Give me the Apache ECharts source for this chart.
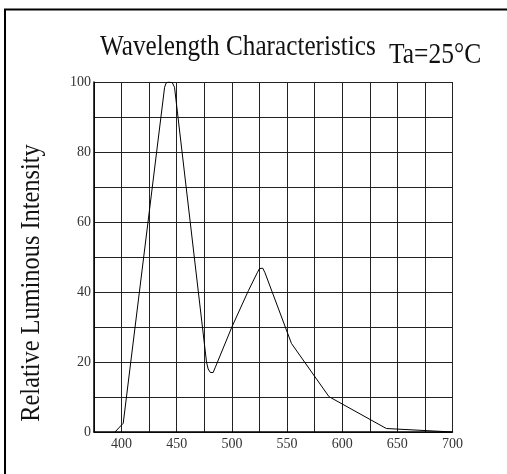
<!DOCTYPE html>
<html>
<head>
<meta charset="utf-8">
<script src="https://cdn.jsdelivr.net/npm/echarts@6/dist/echarts.min.js"></script>
<style>
html,body{margin:0;padding:0;background:#fff;}
#chart{width:507px;height:474px;}
</style>
</head>
<body>
<div id="chart"></div>
<script>
// Wavelength (nm)
var wavelengths = [394, 401.5, 439, 440.5, 443, 446, 448, 477, 478.5, 480.5, 483, 485, 500, 515, 523, 525, 528, 530, 554, 588, 640, 700];
// Relative luminous intensity (%)
var intensity   = [0, 2.5, 98.5, 99.8, 100, 99.8, 98.5, 20, 18, 17, 17, 18.5, 30, 40.4, 45.5, 46.7, 46.8, 45.5, 25.3, 10.1, 1.0, 0];
var xTickLabels = [400, 450, 500, 550, 600, 650, 700];
var yTickLabels = [0, 20, 40, 60, 80, 100];
var titleText = 'Wavelength Characteristics';
var condText = 'Ta=25°C';
var yTitle = 'Relative Luminous Intensity';

var seriesData = wavelengths.map(function (w, i) { return [w, intensity[i]]; });

var chart = echarts.init(document.getElementById('chart'));
var serif = '"Liberation Serif", "Times New Roman", serif';
chart.setOption({
  animation: false,
  backgroundColor: '#fff',
  grid: { left: 94, top: 82, right: 54.5, bottom: 42 },
  xAxis: {
    type: 'value', min: 375, max: 700, interval: 25,
    axisLine: { show: true, lineStyle: { color: '#000', width: 1.5 } },
    axisTick: { show: false },
    splitLine: { show: true, lineStyle: { color: '#222', width: 1 } },
    axisLabel: {
      margin: 5, fontSize: 14, fontFamily: serif, color: '#333',
      formatter: function (v) { return xTickLabels.indexOf(v) >= 0 ? String(v) : ''; }
    }
  },
  yAxis: {
    type: 'value', min: 0, max: 100, interval: 10,
    axisLine: { show: true, lineStyle: { color: '#000', width: 1.5 } },
    axisTick: { show: false },
    splitLine: { show: true, lineStyle: { color: '#222', width: 1 } },
    axisLabel: {
      margin: 3, fontSize: 14, fontFamily: serif, color: '#333',
      formatter: function (v) { return yTickLabels.indexOf(v) >= 0 ? String(v) : ''; }
    }
  },
  series: [{
    type: 'line',
    data: seriesData,
    showSymbol: false,
    smooth: false,
    lineStyle: { color: '#000', width: 1 },
    z: 5
  }],
  graphic: [
    { type: 'rect', shape: { x: 5, y: 9.5, width: 700, height: 700 },
      style: { fill: 'none', stroke: '#000', lineWidth: 2 }, z: 100 },
    { type: 'text', x: 100, y: 47, scaleX: 0.84,
      style: { text: titleText, fontSize: 30, fontFamily: serif, fill: '#111', align: 'left', verticalAlign: 'middle' } },
    { type: 'text', x: 389, y: 55, scaleX: 0.85,
      style: { text: condText, fontSize: 30, fontFamily: serif, fill: '#111', align: 'left', verticalAlign: 'middle' } },
    { type: 'text', x: 32, y: 283, rotation: Math.PI / 2, scaleX: 0.87,
      style: { text: yTitle, fontSize: 28, fontFamily: serif, fill: '#111', align: 'center', verticalAlign: 'middle' } }
  ]
});
</script>
</body>
</html>
